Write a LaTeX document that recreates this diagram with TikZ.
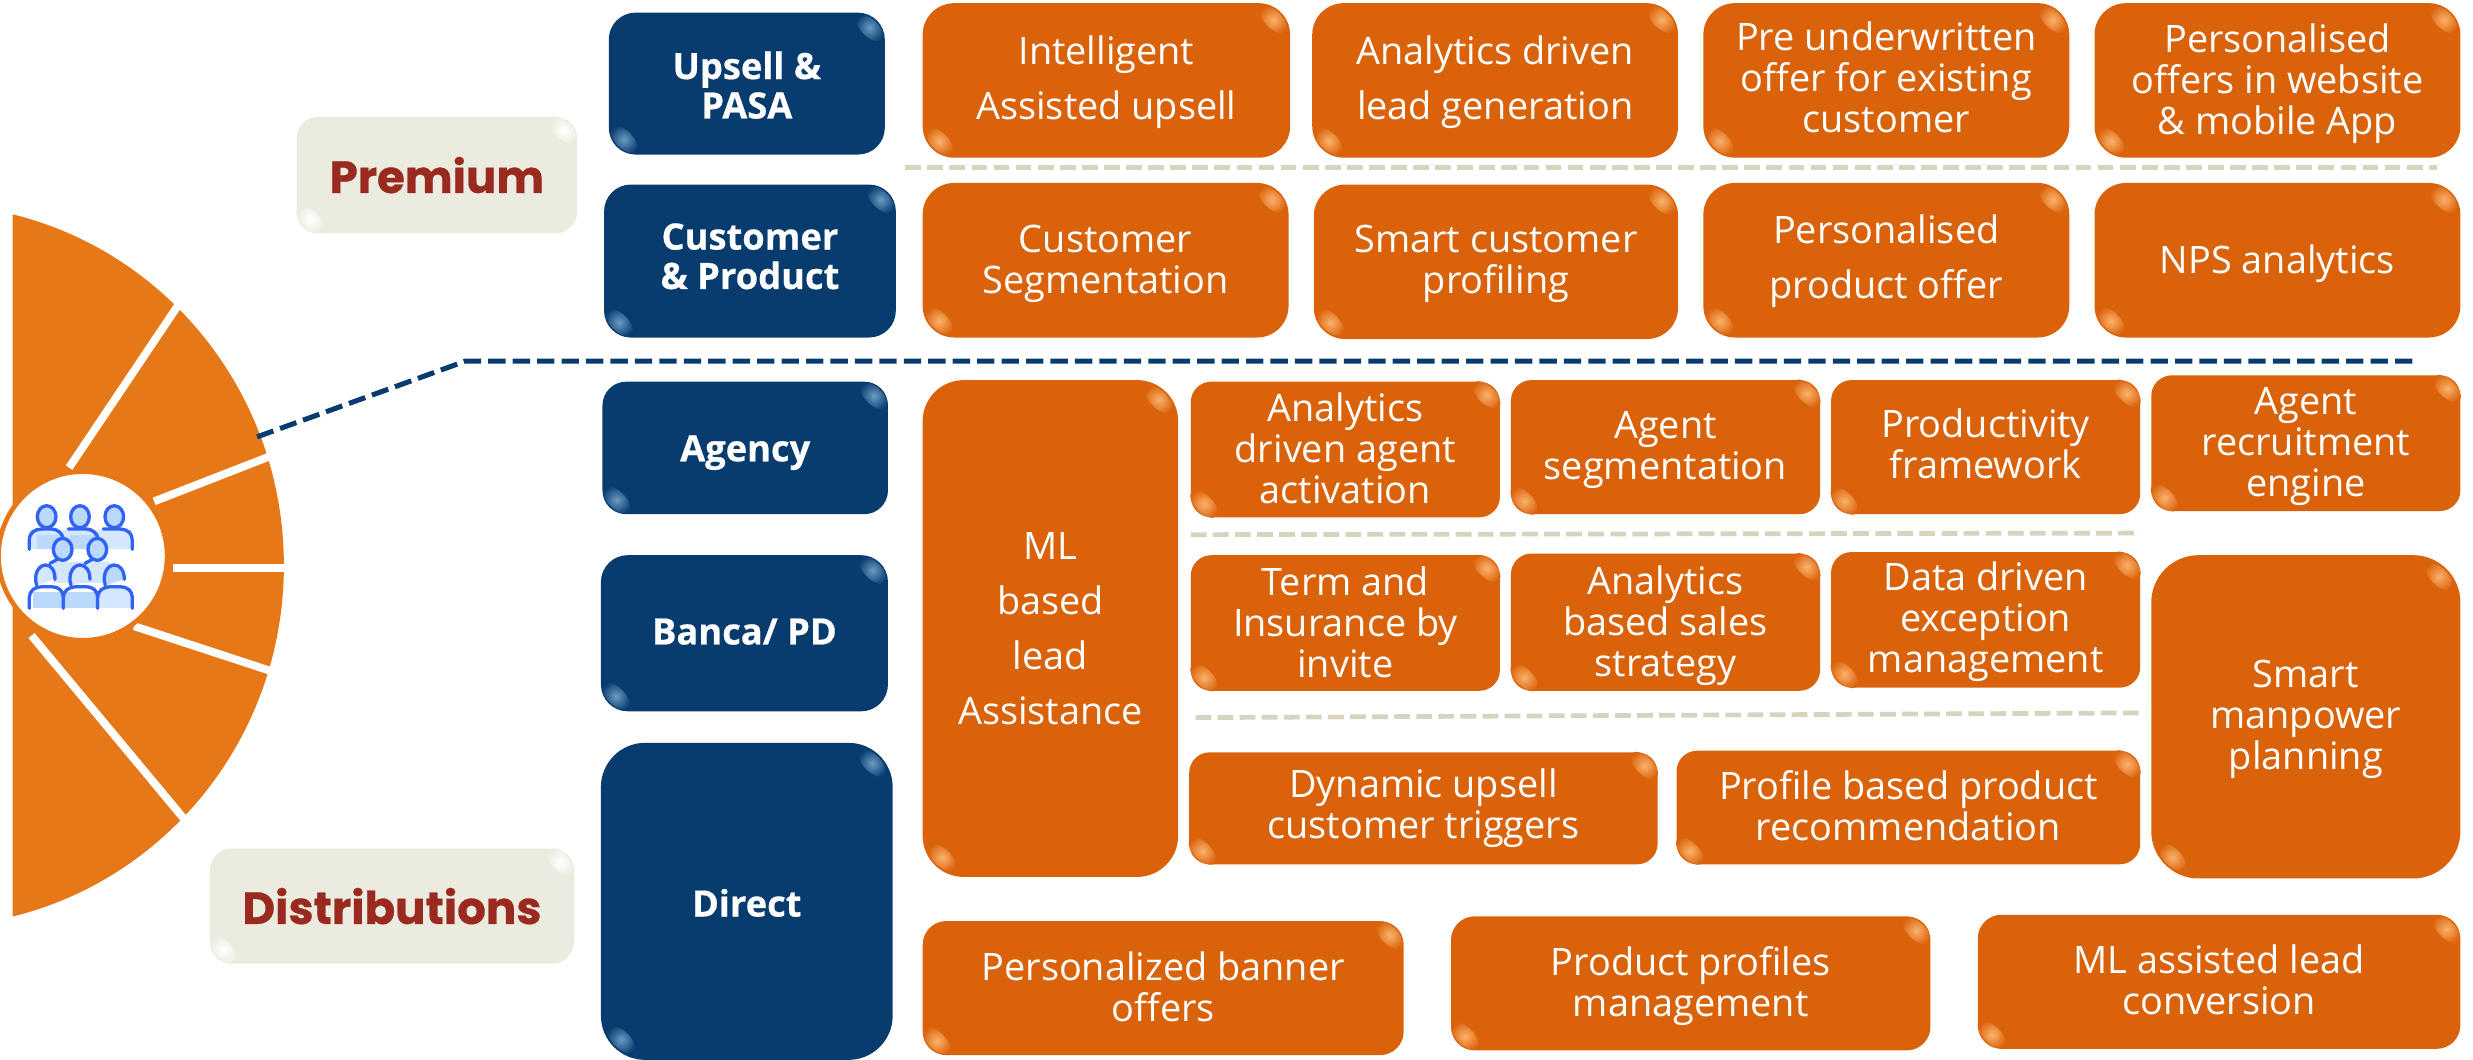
\documentclass[tikz,border=0pt]{standalone}
\usepackage{fontspec}
\setmainfont{Open Sans}
\newfontfamily\headf[FakeBold=0.6]{Poppins}
\newfontfamily\navyf[FakeBold=0.5]{Open Sans}
\definecolor{navy}{HTML}{083B6E}
\definecolor{navyhi}{HTML}{6A9CC4}
\definecolor{burnt}{HTML}{DA620B}
\definecolor{burnthi}{HTML}{FBB26C}
\definecolor{cream}{HTML}{ECEBDF}
\definecolor{creamhi}{HTML}{FFFFFF}
\definecolor{fan}{HTML}{E67817}
\definecolor{dashbeige}{HTML}{D6D3BF}
\definecolor{headred}{HTML}{9A2A1F}
\definecolor{iconblue}{HTML}{2F62F5}
\definecolor{iconfill}{HTML}{BBD9FD}
\definecolor{iconpale}{HTML}{D5E7FE}
\tikzset{
  basebox/.style={rounded corners=#1, inner sep=0pt},
  textlabel/.style={inner sep=0pt, align=center},
  navy box/.style={fill=navy},
  burnt box/.style={fill=burnt},
  cream box/.style={fill=cream},
  navy text/.style={text=white, font=\navyf\bfseries\fontsize{23}{25}\selectfont},
  burnt text/.style={text=white, font=\fontsize{24}{26}\selectfont},
  cream text/.style={text=headred, font=\headf\bfseries\fontsize{28.6}{30}\selectfont},
  navydash/.style={draw=navy, line width=3.2pt, dash pattern=on 11pt off 4.5pt},
  beigedash/.style={draw=dashbeige, line width=3pt, dash pattern=on 10pt off 4pt},
  spoke/.style={draw=white, line width=5pt},
  iconline/.style={draw=iconblue, line width=2.1pt, line cap=round, line join=round},
}
% [radius]{name}{x0}{y0}{x1}{y1}{kind}{dy}{text}
\newcommand\bx[9][18]{%
  \node[basebox=#1pt, #7 box, minimum width={(#5-#3)*1pt}, minimum height={(#6-#4)*1pt}] (#2)
    at ({(#3+#5)/2},{(#4+#6)/2}) {};
  \shade[inner color=#7hi, outer color=#7, shift={({#5-(0.3*#1+4.5)},{#4+(0.3*#1+4.5)})}, rotate=-45]
    (0,0) ellipse [x radius=11pt, y radius=5.5pt];
  \shade[inner color=#7hi, outer color=#7, shift={({#3+(0.3*#1+4.5)},{#6-(0.3*#1+4.5)})}, rotate=-45]
    (0,0) ellipse [x radius=11pt, y radius=5.5pt];
  \node[textlabel, #7 text] (#2t) at ({(#3+#5)/2},{(#4+#6)/2+#8}) {#9};
}
\newcommand\headcirc[2]{\draw[iconline, fill=iconfill] (#1,#2) ellipse [x radius=28, y radius=33];}
\begin{document}
\begin{tikzpicture}[x=1pt,y=-1pt]
\useasboundingbox (0,0) rectangle (1568,672);
% fan
\begin{scope}
  \clip (8,0) rectangle (400,672);
  \fill[fan] (-45,358.5) ellipse [x radius=225, y radius=229];
\end{scope}
\draw[spoke] (43.8,296.5) -- (116,189);
\draw[spoke] (97.7,317.9) -- (172,289);
\draw[spoke] (110,360) -- (184,360);
\draw[spoke] (85,397) -- (178,427.5);
\draw[spoke] (20,403) -- (124,528);
\draw[fan, line width=3pt, fill=white] (52.5,352.5) circle [radius=53.5];
% icon
\begin{scope}[shift={(0,291.7)}, x=0.2113pt, y=-0.2113pt]
  \fill[iconpale] (88,210) rectangle (397,268);
  \fill[iconfill] (110,225) rectangle (190,268);
  \fill[iconfill] (210,225) rectangle (290,268);
  \draw[iconline] (88,268) -- (88,240) .. controls (88,218) and (105,207) .. (125,207) -- (155,207) .. controls (172,207) and (185,218) .. (190,235);
  \draw[iconline] (205,207) -- (260,207) .. controls (275,207) and (290,218) .. (295,235);
  \draw[iconline] (310,207) -- (360,207) .. controls (382,207) and (397,220) .. (397,240) -- (397,268);
  \headcirc{140}{170}\headcirc{240}{170}\headcirc{343}{170}
  \fill[iconpale] (160,305) rectangle (330,370);
  \headcirc{188}{268}\headcirc{292}{268}
  \draw[iconline] (150,310) -- (172,298);
  \draw[iconline] (255,310) -- (277,298);
  \fill[white] (88,380) rectangle (397,445);
  \fill[iconpale] (300,385) rectangle (397,445);
  \fill[iconfill] (100,395) rectangle (290,445);
  \draw[iconline, fill=iconpale] (110,375) .. controls (100,345) and (115,315) .. (137,315) .. controls (155,315) and (165,332) .. (165,358);
  \draw[iconline, fill=iconpale] (213,375) .. controls (203,345) and (218,315) .. (240,315) .. controls (258,315) and (270,332) .. (270,358);
  \draw[iconline, fill=iconfill] (316,375) .. controls (306,345) and (321,315) .. (343,315) .. controls (361,315) and (373,332) .. (373,358);
  \draw[iconline] (88,445) -- (88,412) .. controls (88,392) and (105,380) .. (125,380) -- (155,380) .. controls (175,380) and (190,392) .. (190,412) -- (190,445);
  \draw[iconline] (190,412) .. controls (190,392) and (208,380) .. (228,380) -- (258,380) .. controls (278,380) and (293,392) .. (293,412) -- (293,445);
  \draw[iconline] (293,412) .. controls (293,392) and (311,380) .. (331,380) -- (361,380) .. controls (381,380) and (397,392) .. (397,412) -- (397,445);
\end{scope}
% dashed lines
\coordinate (nstart) at (163,277);
\coordinate (nbend) at (295,229);
\coordinate (nend) at (1532,229);
\draw[navydash] (nstart) -- (nbend) -- (nend);
\coordinate (b1a) at (574,106); \coordinate (b1b) at (1545,106);
\coordinate (b2a) at (755,339); \coordinate (b2b) at (1357,338);
\coordinate (b3a) at (758,455); \coordinate (b3b) at (1360,452);
\draw[beigedash] (b1a) -- (b1b);
\draw[beigedash] (b2a) -- (b2b);
\draw[beigedash] (b3a) -- (b3b);
% labels
\bx[14]{premium}{188}{74}{366}{148}{cream}{0}{Premium}
\bx[14]{distrib}{133}{538}{364}{611}{cream}{0}{Distributions}
% left column
\bx[17]{upsell}{386}{8}{561}{98}{navy}{1}{Upsell \&\\PASA}
\bx[17]{custprod}{383}{117}{568}{214}{navy}{-3}{Customer\\\& Product}
\bx[15]{agency}{382}{242}{563}{326}{navy}{3}{Agency}
\bx[17]{banca}{381}{352}{563}{451}{navy}{-1}{Banca/ PD}
\bx[28]{direct}{381}{471}{566}{672}{navy}{1}{Direct}
% premium rows
\bx[20]{r1a}{585}{2}{818}{100}{burnt}{1}{Intelligent\\[9pt]Assisted upsell}
\bx[20]{r1b}{832}{2}{1064}{100}{burnt}{1}{Analytics driven\\[9pt]lead generation}
\bx[20]{r1c}{1080}{2}{1312}{100}{burnt}{-2}{Pre underwritten\\offer for existing\\customer}
\bx[20]{r1d}{1328}{2}{1560}{100}{burnt}{2}{Personalised\\offers in website\\\& mobile App}
\bx[20]{r2a}{585}{116}{817}{214}{burnt}{2}{Customer\\Segmentation}
\bx[20]{r2b}{833}{117}{1064}{215}{burnt}{1}{Smart customer\\profiling}
\bx[20]{r2c}{1080}{116}{1312}{214}{burnt}{0.5}{Personalised\\[9pt]product offer}
\bx[20]{r2d}{1328}{116}{1560}{214}{burnt}{2}{NPS analytics}
% distribution blocks
\bx[26]{ml}{585}{241}{747}{556}{burnt}{0}{ML\\[9pt]based\\[9pt]lead\\[9pt]Assistance}
\bx[13]{a1}{755}{242}{951}{328}{burnt}{-1}{Analytics\\driven agent\\activation}
\bx[13]{a2}{958}{241}{1154}{326}{burnt}{1.5}{Agent\\segmentation}
\bx[13]{a3}{1161}{241}{1357}{326}{burnt}{-2}{Productivity\\framework}
\bx[13]{a4}{1364}{238}{1560}{324}{burnt}{2}{Agent\\recruitment\\engine}
\bx[13]{b1}{755}{352}{951}{438}{burnt}{-0.5}{Term and\\Insurance by\\invite}
\bx[13]{b2}{958}{351}{1154}{438}{burnt}{2}{Analytics\\based sales\\strategy}
\bx[13]{b3}{1161}{350}{1357}{436}{burnt}{1}{Data driven\\exception\\management}
\bx[30]{smart}{1364}{352}{1560}{557}{burnt}{1.5}{Smart\\manpower\\planning}
\bx[13]{d1}{754}{477}{1051}{548}{burnt}{0}{Dynamic upsell\\customer triggers}
\bx[13]{d2}{1063}{476}{1357}{548}{burnt}{-1}{Profile based product\\recommendation}
\bx[15]{e1}{585}{584}{890}{669}{burnt}{-1}{Personalized banner\\offers}
\bx[15]{e2}{920}{581}{1224}{666}{burnt}{2}{Product profiles\\management}
\bx[15]{e3}{1254}{580}{1560}{665}{burnt}{-1}{ML assisted lead\\conversion}
\end{tikzpicture}
\end{document}
